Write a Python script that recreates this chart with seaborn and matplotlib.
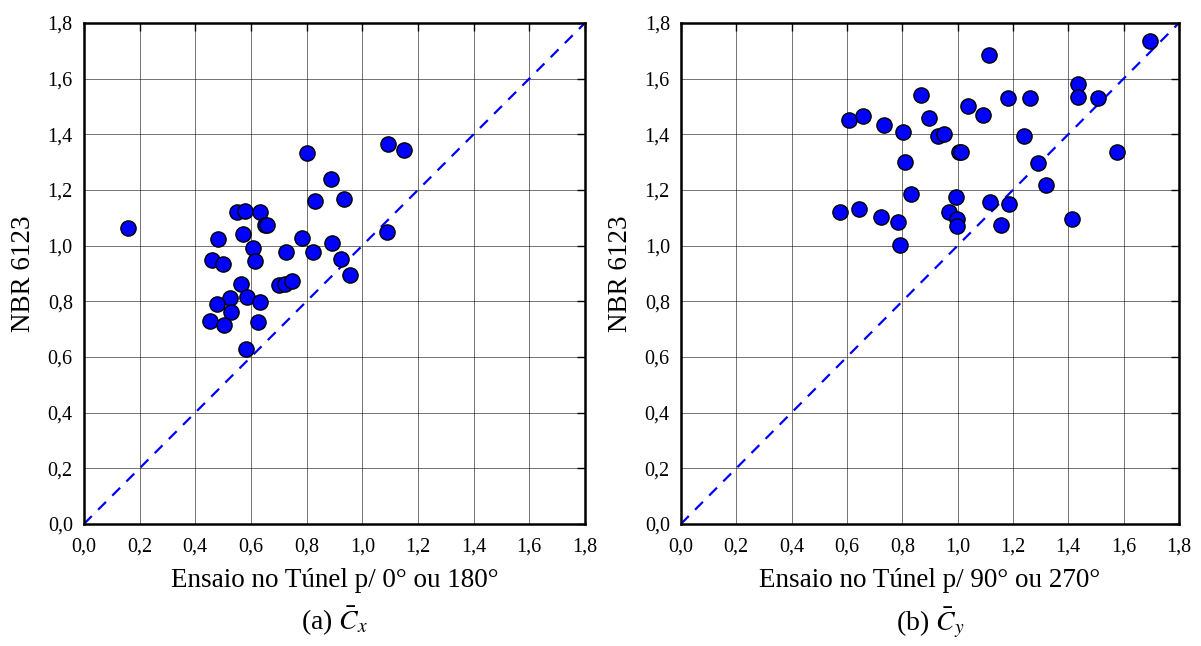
import matplotlib
matplotlib.use("Agg")
import matplotlib.pyplot as plt
import matplotlib.ticker as mticker
import seaborn as sns
import pandas as pd

# Panel (a): C_x
cx_tunnel = [0.159, 0.802, 1.093, 1.150, 0.889, 0.831, 0.933, 0.551, 0.577, 0.631,
             0.650, 0.658, 0.481, 0.571, 0.782, 1.089, 0.607, 0.890, 0.461, 0.498,
             0.614, 0.727, 0.823, 0.922, 0.956, 0.565, 0.701, 0.721, 0.747, 0.525,
             0.478, 0.587, 0.634, 0.527, 0.454, 0.503, 0.626, 0.581]
cx_nbr = [1.062, 1.334, 1.364, 1.344, 1.240, 1.162, 1.168, 1.121, 1.125, 1.121,
          1.073, 1.075, 1.025, 1.040, 1.028, 1.048, 0.992, 1.009, 0.949, 0.933,
          0.946, 0.977, 0.977, 0.953, 0.896, 0.862, 0.859, 0.862, 0.873, 0.812,
          0.789, 0.817, 0.798, 0.761, 0.729, 0.715, 0.727, 0.628]

# Panel (b): C_y
cy_tunnel = [0.867, 0.608, 0.657, 0.734, 0.802, 0.898, 0.811, 0.831, 0.575, 0.643,
             0.724, 0.784, 0.793, 1.695, 1.113, 1.436, 1.434, 1.508, 1.182, 1.260,
             1.037, 1.093, 0.928, 0.952, 1.239, 1.004, 1.012, 1.575, 1.292, 1.320,
             0.994, 1.116, 1.187, 0.969, 0.998, 0.998, 1.158, 1.413]
cy_nbr = [1.542, 1.452, 1.465, 1.432, 1.407, 1.458, 1.302, 1.186, 1.119, 1.130,
          1.104, 1.085, 1.002, 1.736, 1.686, 1.581, 1.535, 1.530, 1.529, 1.529,
          1.502, 1.469, 1.393, 1.401, 1.394, 1.335, 1.335, 1.337, 1.298, 1.217,
          1.174, 1.158, 1.150, 1.121, 1.096, 1.071, 1.074, 1.096]

ticks = [0.0, 0.2, 0.4, 0.6, 0.8, 1.0, 1.2, 1.4, 1.6, 1.8]
xlabels = ["Ensaio no Túnel p/ 0° ou 180°", "Ensaio no Túnel p/ 90° ou 270°"]
ylabel = "NBR 6123"
captions = [r"(a) $\bar{C}_x$", r"(b) $\bar{C}_y$"]

sns.set_theme(style="white")
plt.rcParams["font.family"] = ["Liberation Serif", "DejaVu Serif"]
plt.rcParams["mathtext.fontset"] = "stix"
plt.rcParams["text.color"] = "black"
plt.rcParams["axes.labelcolor"] = "black"

fig = plt.figure(figsize=(12.01, 6.46), dpi=100)
ax1 = fig.add_axes([0.0699, 0.189, 0.4172, 0.7755])
ax2 = fig.add_axes([0.5670, 0.189, 0.4147, 0.7755])

data = [(cx_tunnel, cx_nbr), (cy_tunnel, cy_nbr)]
fmt = mticker.FuncFormatter(lambda v, p: f"{v:.1f}".replace(".", ","))

for i, ax in enumerate([ax1, ax2]):
    xs, ys = data[i]
    df = pd.DataFrame({"x": xs, "y": ys})
    sns.lineplot(x=[ticks[0], ticks[-1]], y=[ticks[0], ticks[-1]], ax=ax,
                 color="#0000ff", linestyle=(0, (5, 4)), linewidth=1.6)
    sns.scatterplot(data=df, x="x", y="y", ax=ax, s=120, color="#0000ff",
                    edgecolor="black", linewidth=1.0, zorder=3)
    ax.set_xlim(0, 1.8)
    ax.set_ylim(0, 1.8)
    ax.set_xticks(ticks)
    ax.set_yticks(ticks)
    ax.xaxis.set_major_formatter(fmt)
    ax.yaxis.set_major_formatter(fmt)
    ax.grid(True, color="black", linewidth=0.7, alpha=0.55)
    ax.set_axisbelow(True)
    ax.tick_params(direction="in", length=6, width=1, top=True, right=True,
                   labelsize=14.5, colors="black")
    ax.tick_params(axis="x", pad=10)
    ax.tick_params(axis="y", pad=8)
    for sp in ax.spines.values():
        sp.set_visible(True)
        sp.set_color("black")
        sp.set_linewidth(1.8)
    ax.set_xlabel(xlabels[i], fontsize=19.5, labelpad=8)
    ax.set_ylabel(ylabel, fontsize=19.5)
    ax.yaxis.set_label_coords(-0.096, 0.5)
    ax.text(0.5, -0.2116, captions[i], transform=ax.transAxes, ha="center",
            va="baseline", fontsize=20)

fig.savefig("out.png", dpi=100, facecolor="white")
